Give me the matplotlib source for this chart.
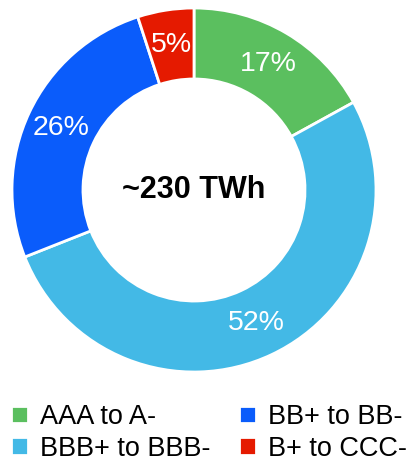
import matplotlib
matplotlib.use("Agg")
import matplotlib.pyplot as plt

labels = ["AAA to A-", "BBB+ to BBB-", "BB+ to BB-", "B+ to CCC-"]
shares = [17, 52, 26, 5]
colors = ["#5bbf5f", "#43b9e6", "#0a5cfb", "#e51a00"]
center_label = "~230 TWh"

plt.rcParams["font.family"] = ["Liberation Sans", "DejaVu Sans"]

fig = plt.figure(figsize=(4.09, 4.63), dpi=100)
ax = fig.add_axes([12 / 409, 1 - 372 / 463, 364 / 409, 364 / 463])

wedges, texts = ax.pie(
    shares, colors=colors, startangle=90, counterclock=False,
    labels=[f"{v}%" for v in shares], labeldistance=0.805,
    wedgeprops=dict(width=0.39, edgecolor="white", linewidth=2),
    textprops=dict(color="white", fontsize=20.5, ha="center", va="center"),
)
ax.text(0, 0, center_label, ha="center", va="center", fontsize=22, fontweight="bold")
ax.set_xlim(-1, 1); ax.set_ylim(-1, 1); ax.set_aspect("equal")

fig.legend(
    wedges, labels, ncol=2, loc="upper left", bbox_to_anchor=(0.0, 1 - 393 / 463),
    frameon=False, fontsize=19.5, handlelength=0.62, handleheight=0.62,
    handletextpad=0.45, columnspacing=1.05, labelspacing=0.22, borderpad=0.3,
    borderaxespad=0.1,
)

fig.savefig("out.png", dpi=100)
